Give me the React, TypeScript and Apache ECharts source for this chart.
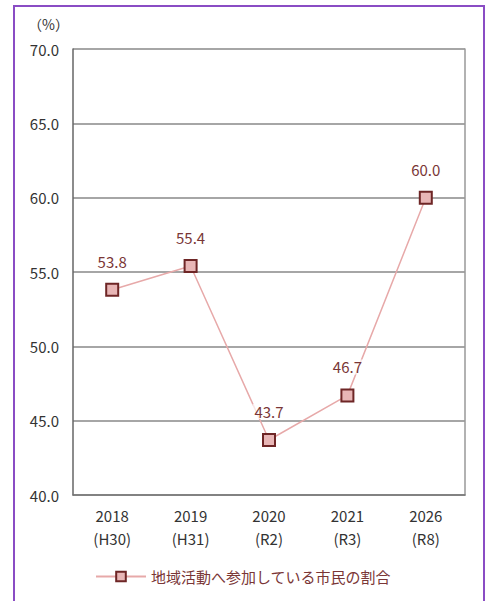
import React, { useEffect, useRef } from "react";
import * as echarts from "echarts";

const years = ["2018", "2019", "2020", "2021", "2026"];
const eras = ["(H30)", "(H31)", "(R2)", "(R3)", "(R8)"];
const values = [53.8, 55.4, 43.7, 46.7, 60.0];
const seriesName = "地域活動へ参加している市民の割合";

export default function App() {
  const ref = useRef<HTMLDivElement>(null);
  useEffect(() => {
    document.body.style.margin = "0";
    const chart = echarts.init(ref.current!, undefined, { renderer: "svg" });
    const font = "'Noto Sans CJK JP', 'Noto Sans', sans-serif";
    chart.setOption({
      animation: false,
      textStyle: { fontFamily: font },
      graphic: [
        {
          type: "rect",
          shape: { x: 14, y: 6, width: 470, height: 620 },
          style: { fill: "none", stroke: "#8a4cc4", lineWidth: 2 },
          silent: true,
        },
        {
          type: "text",
          left: 28,
          top: 17,
          style: { text: "（%）", fontSize: 14, fill: "#333", fontFamily: font },
        },
      ],
      grid: { left: 73, top: 49, width: 392, height: 446, containLabel: false },
      legend: {
        bottom: 12,
        left: "center",
        itemWidth: 50,
        itemHeight: 12,
        itemGap: 6,
        textStyle: { color: "#7a3636", fontSize: 15, fontFamily: font },
        data: [{ name: seriesName }],
      },
      xAxis: {
        type: "category",
        data: years.map((y, i) => y + "\n" + eras[i]),
        boundaryGap: true,
        axisLine: { show: true, lineStyle: { color: "#777", width: 1.5 } },
        axisTick: { show: false },
        axisLabel: {
          color: "#333",
          fontSize: 15,
          lineHeight: 23,
          margin: 9,
          fontFamily: font,
        },
      },
      yAxis: [
        {
          type: "value",
          min: 40,
          max: 70,
          interval: 5,
          axisLine: { show: true, lineStyle: { color: "#666", width: 1.5 } },
          axisTick: { show: false },
          splitLine: { show: true, lineStyle: { color: "#888", width: 1.5 } },
          axisLabel: {
            color: "#333",
            fontSize: 15,
            margin: 14,
            formatter: (v: number) => v.toFixed(1),
            fontFamily: font,
          },
        },
        {
          type: "value",
          position: "right",
          min: 40,
          max: 70,
          interval: 5,
          axisLine: { show: true, lineStyle: { color: "#999", width: 1.5 } },
          axisTick: { show: false },
          splitLine: { show: false },
          axisLabel: { show: false },
        },
      ],
      series: [
        {
          name: seriesName,
          type: "line",
          data: values,
          symbol: "rect",
          symbolSize: 12,
          itemStyle: { color: "#e8b6b6", borderColor: "#6e2626", borderWidth: 2 },
          lineStyle: { color: "#e7a9a9", width: 1.5 },
          label: {
            show: true,
            position: "top",
            distance: 14,
            color: "#7a3636",
            fontSize: 15,
            fontFamily: font,
            formatter: (p: any) => p.value.toFixed(1),
            backgroundColor: "rgba(255,255,255,0.7)",
            padding: [0, 2],
          },
        },
      ],
    });
    return () => chart.dispose();
  }, []);
  return <div ref={ref} style={{ width: 486, height: 601 }} />;
}
